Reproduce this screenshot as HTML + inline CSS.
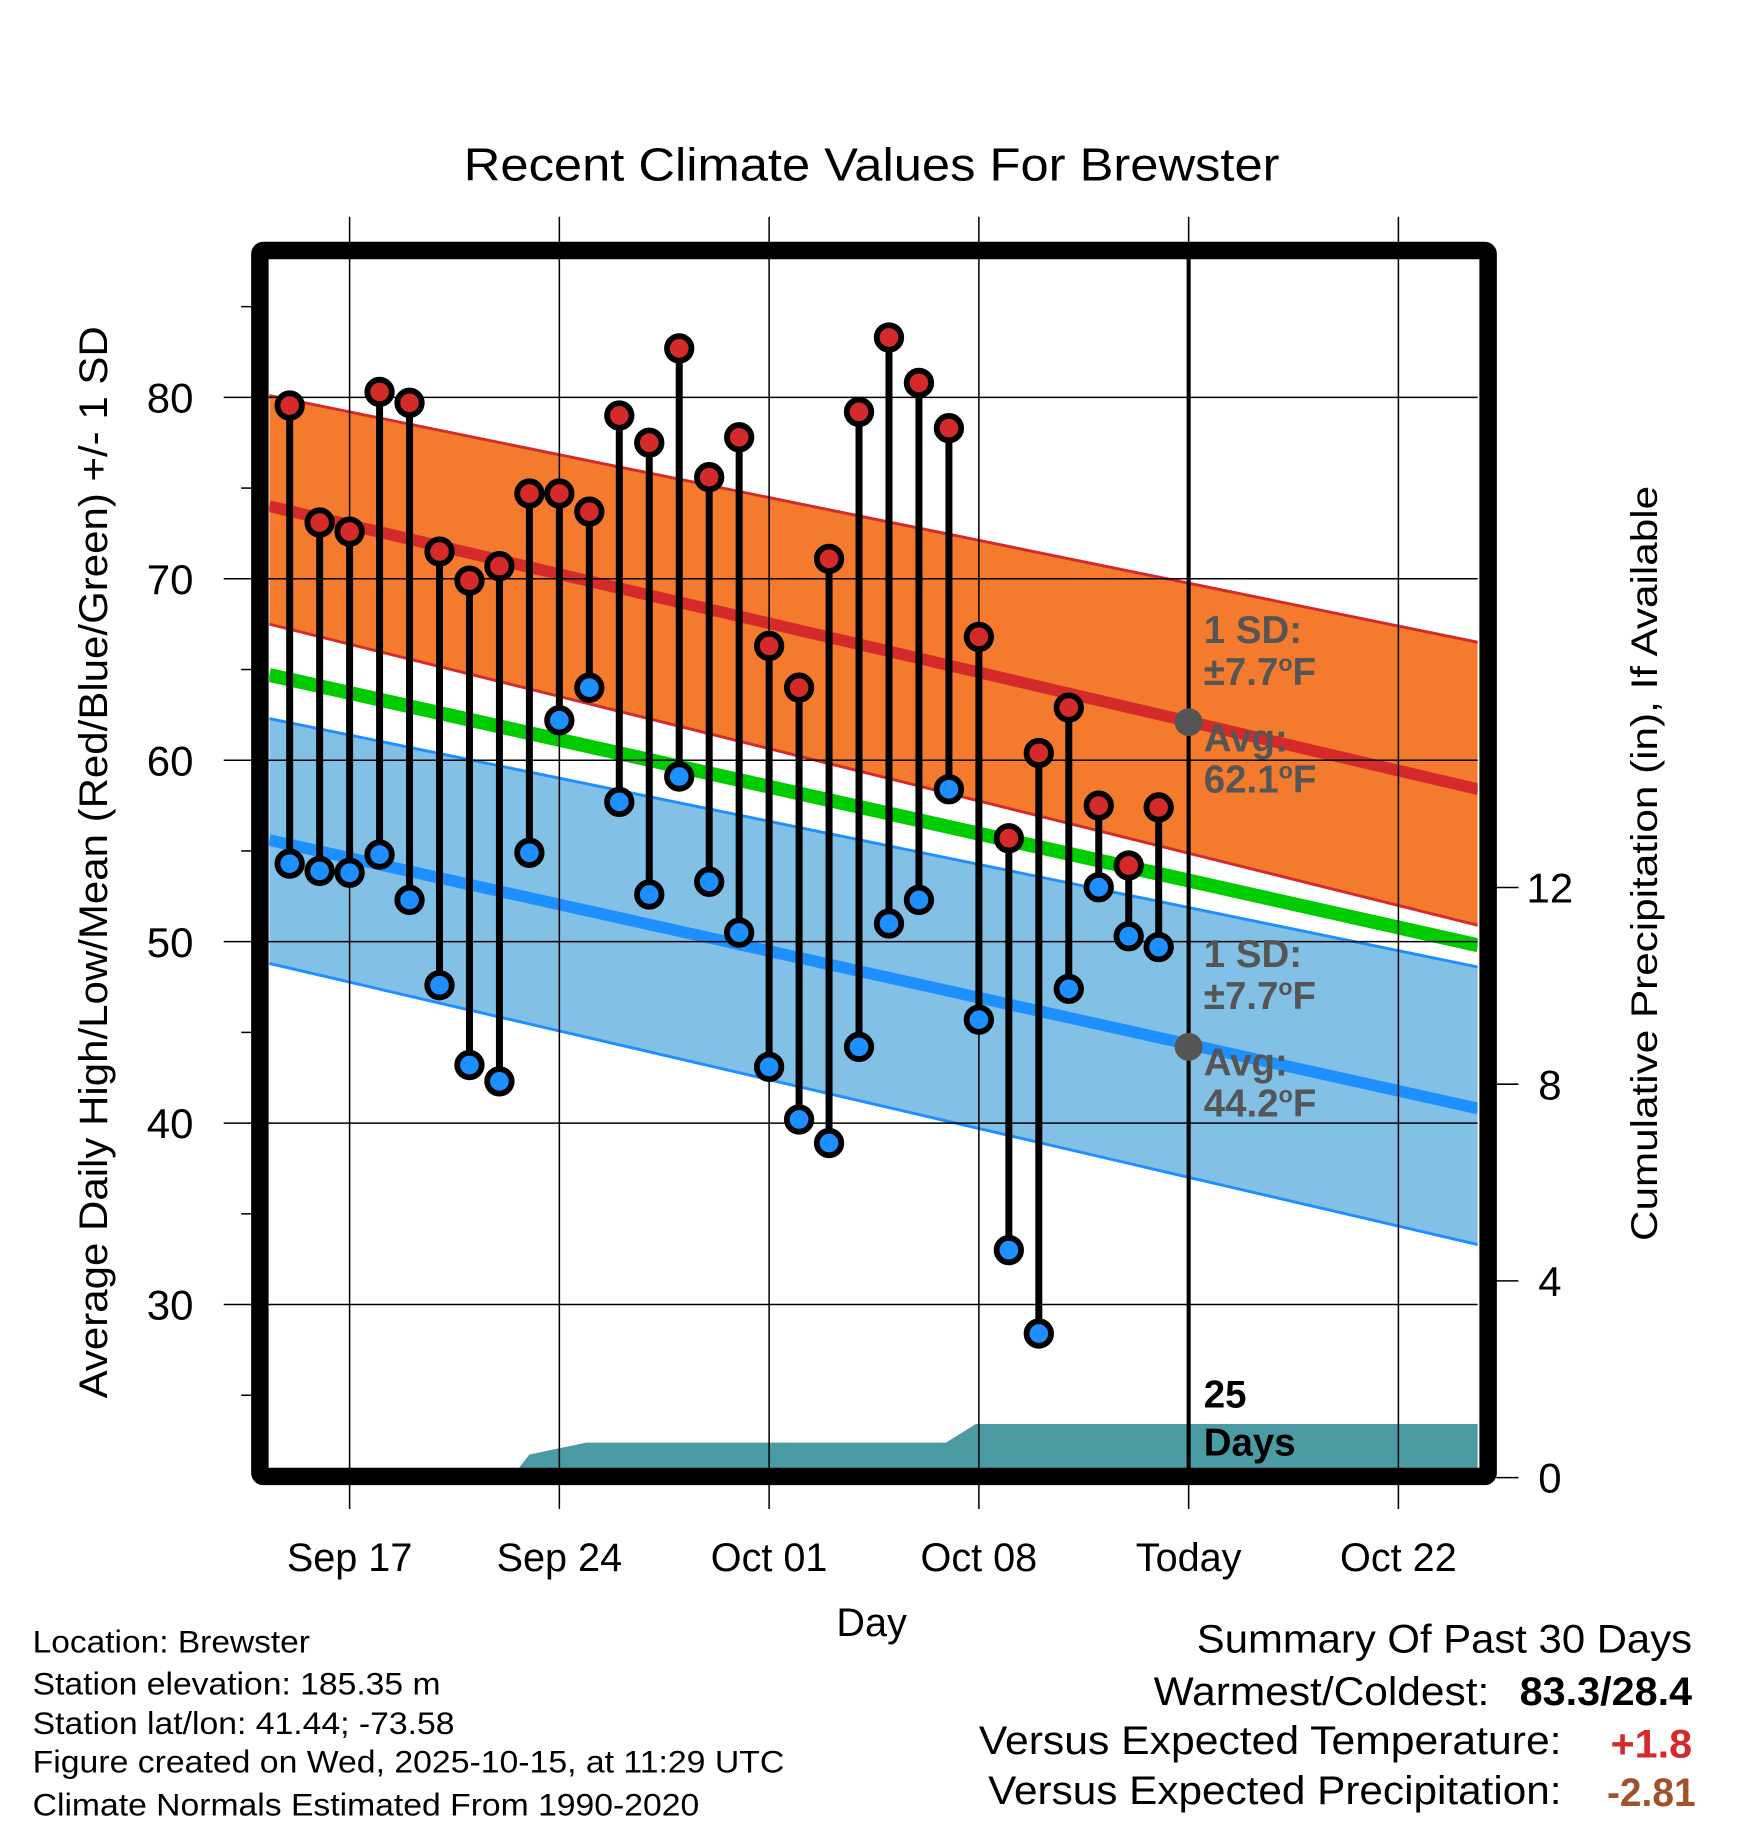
<!DOCTYPE html>
<html><head><meta charset="utf-8"><style>
html,body{margin:0;padding:0;background:#fff;}
svg{display:block;font-family:"Liberation Sans",sans-serif;}
</style></head><body>
<svg id="chart" width="1748" height="1828" viewBox="0 0 1500 1568.7" preserveAspectRatio="none" xmlns="http://www.w3.org/2000/svg">
<rect x="0" y="0" width="1500" height="1568.7" fill="#fff"/>
<text x="748" y="155" font-size="40" text-anchor="middle" textLength="700" lengthAdjust="spacingAndGlyphs">Recent Climate Values For Brewster</text>
<g id="plot"></g>
<text transform="translate(92,740) rotate(-90)" font-size="34" text-anchor="middle" textLength="920" lengthAdjust="spacingAndGlyphs">Average Daily High/Low/Mean (Red/Blue/Green) +/- 1 SD</text>
<text transform="translate(1422,741) rotate(-90)" font-size="32" text-anchor="middle" textLength="648" lengthAdjust="spacingAndGlyphs">Cumulative Precipitation (in), If Available</text>
<text x="748" y="1404" font-size="34" text-anchor="middle">Day</text>
<g font-size="27">
<text x="28" y="1418" textLength="238" lengthAdjust="spacingAndGlyphs">Location: Brewster</text>
<text x="28" y="1454" textLength="350" lengthAdjust="spacingAndGlyphs">Station elevation: 185.35 m</text>
<text x="28" y="1488" textLength="362" lengthAdjust="spacingAndGlyphs">Station lat/lon: 41.44; -73.58</text>
<text x="28" y="1521" textLength="645" lengthAdjust="spacingAndGlyphs">Figure created on Wed, 2025-10-15, at 11:29 UTC</text>
<text x="28" y="1558" textLength="572" lengthAdjust="spacingAndGlyphs">Climate Normals Estimated From 1990-2020</text>
</g>
<g font-size="34">
<text x="1452" y="1418" text-anchor="end" textLength="425" lengthAdjust="spacingAndGlyphs">Summary Of Past 30 Days</text>
<text x="1278" y="1463" text-anchor="end" textLength="288" lengthAdjust="spacingAndGlyphs">Warmest/Coldest:</text>
<text x="1452" y="1463" text-anchor="end" font-weight="bold" textLength="148" lengthAdjust="spacingAndGlyphs">83.3/28.4</text>
<text x="1340" y="1505" text-anchor="end" textLength="500" lengthAdjust="spacingAndGlyphs">Versus Expected Temperature:</text>
<text x="1452" y="1508" text-anchor="end" font-weight="bold" fill="#d42a2a" textLength="70" lengthAdjust="spacingAndGlyphs">+1.8</text>
<text x="1340" y="1548" text-anchor="end" textLength="492" lengthAdjust="spacingAndGlyphs">Versus Expected Precipitation:</text>
<text x="1455" y="1550" text-anchor="end" font-weight="bold" fill="#a0522d" textLength="76" lengthAdjust="spacingAndGlyphs">-2.81</text>
</g>
</svg>
<script>
const dayLabels = ["Sep 17","Sep 24","Oct 01","Oct 08","Today","Oct 22"];
const dayLabelPos = [0,7,14,21,28,35];
const yTicks = [30,40,50,60,70,80];
const yMinor = [25,35,45,55,65,75,85];
const pTicks = [0,4,8,12];
const obsDays = [-2,-1,0,1,2,3,4,5,6,7,8,9,10,11,12,13,14,15,16,17,18,19,20,21,22,23,24,25,26,27];
const highs = [79.55,73.1,72.6,80.3,79.7,71.5,69.9,70.7,74.7,74.7,73.7,79.0,77.5,82.7,75.6,77.8,66.3,64.0,71.1,79.2,83.3,80.8,78.3,66.8,55.7,60.4,62.9,57.5,54.2,57.4];
const lows = [54.3,53.9,53.8,54.8,52.3,47.6,43.2,42.3,54.9,62.2,64.0,57.7,52.6,59.1,53.3,50.5,43.1,40.2,38.9,44.2,51.0,52.3,58.4,45.7,33.0,28.4,47.4,53.0,50.3,49.7];
const normDays = [-2.68,37.66];
const highTop = [80.1,66.5];
const highAvg = [74.0,58.4];
const highBot = [67.5,50.9];
const meanAvg = [64.7,49.8];
const lowTop = [62.3,48.6];
const lowAvg = [55.6,40.8];
const lowBot = [48.8,33.3];
const precipDays = [-2.68,5.4,6.0,7.9,19.9,20.9,37.66];
const precipVals = [0,0,0.47,0.71,0.71,1.09,1.09];
const todayDay = 28;
const todayHigh = 62.1, todayLow = 44.2;

const X0=231,X1=1268,Y0=222,Y1=1260;
const xs = d => 300 + d*(180/7);
const ys = v => 341 + (80-v)*15.57;
const yp = p => 1268 - p*42.2;
const NS="http://www.w3.org/2000/svg";
const g=document.getElementById('plot');
function mk(tag,attrs,parent){const e=document.createElementNS(NS,tag);for(const k in attrs)e.setAttribute(k,attrs[k]);(parent||g).appendChild(e);return e;}
function line(a){return a.map((v,i)=>xs(normDays[i]).toFixed(1)+','+ys(v).toFixed(1));}

const defs=mk('defs',{});
const cp=mk('clipPath',{id:'clip'},defs);
mk('rect',{x:X0,y:Y0,width:X1-X0,height:Y1-Y0},cp);
const inner=mk('g',{'clip-path':'url(#clip)'});

let e;
e=mk('polygon',{points:line(highTop).concat(line(highBot).reverse()).join(' '),fill:'#f47a2e'},inner);


e=mk('polygon',{points:line(lowTop).concat(line(lowBot).reverse()).join(' '),fill:'#82c0e6'},inner);


[[highTop,'#d42a2a',2.5],[highBot,'#d42a2a',2.5],[lowTop,'#1e8fff',2.5],[lowBot,'#1e8fff',2.5]].forEach(([arr,c,w])=>{
  const l=mk('polyline',{points:line(arr).join(' '),stroke:c,'stroke-width':w,fill:'none'},inner);
  
  
});
e=mk('polyline',{points:line(highAvg).join(' '),stroke:'#d42a2a','stroke-width':10,fill:'none'},inner);


e=mk('polyline',{points:line(lowAvg).join(' '),stroke:'#1e8fff','stroke-width':10,fill:'none'},inner);


e=mk('polyline',{points:line(meanAvg).join(' '),stroke:'#00cc00','stroke-width':12,fill:'none'},inner);



let pts=precipDays.map((d,i)=>xs(d).toFixed(1)+','+yp(precipVals[i]).toFixed(1));
pts.push(xs(precipDays[precipDays.length-1]).toFixed(1)+','+Y1, xs(precipDays[0]).toFixed(1)+','+Y1);
e=mk('polygon',{points:pts.join(' '),fill:'#4a9ba3'},inner);



dayLabels.forEach((lab,i)=>{
  const x=xs(dayLabelPos[i]);
  const l=mk('line',{x1:x,x2:x,y1:186,y2:1295,stroke:'#000','stroke-width':1.3});
  
  
  const t=mk('text',{x:x,y:1348,'font-size':34,'text-anchor':'middle'});
  t.textContent=lab;
  
  
});
yTicks.forEach(v=>{
  const y=ys(v);
  const l=mk('line',{x1:192,x2:X1,y1:y,y2:y,stroke:'#000','stroke-width':1.3});
  
  
  const t=mk('text',{x:166,y:y+13,'font-size':36,'text-anchor':'end'});
  t.textContent=v;
  
  
});
yMinor.forEach(v=>{
  const y=ys(v);
  const l=mk('line',{x1:207,x2:216,y1:y,y2:y,stroke:'#000','stroke-width':1.3});
  
  
});
pTicks.forEach(p=>{
  const y=yp(p);
  const l=mk('line',{x1:1284,x2:1303,y1:y,y2:y,stroke:'#000','stroke-width':1.3});
  
  
  const t=mk('text',{x:1330,y:y+13,'font-size':36,'text-anchor':'middle'});
  t.textContent=p;
  
  
});

e=mk('line',{x1:xs(todayDay),x2:xs(todayDay),y1:Y0,y2:Y1,stroke:'#000','stroke-width':3.5});



obsDays.forEach((d,i)=>{
  const x=xs(d);
  const s=mk('line',{x1:x,x2:x,y1:ys(highs[i]),y2:ys(lows[i]),stroke:'#000','stroke-width':6});
  
  
});
obsDays.forEach((d,i)=>{
  const x=xs(d);
  const h=mk('circle',{cx:x,cy:ys(highs[i]),r:10.5,fill:'#d42a2a',stroke:'#000','stroke-width':5});
  
  
  const l=mk('circle',{cx:x,cy:ys(lows[i]),r:10.5,fill:'#1e8fff',stroke:'#000','stroke-width':5});
  
  
});

e=mk('circle',{cx:xs(todayDay),cy:ys(todayHigh),r:12,fill:'#555'});


e=mk('circle',{cx:xs(todayDay),cy:ys(todayLow),r:12,fill:'#555'});


function ann(txt,y,name,col,deg){
  const t=mk('text',{x:1033,y:y,'font-size':33,'font-weight':'bold',fill:col||'#555'});
  
  
  if(deg){
    const a=mk('tspan',{},t); a.textContent=txt;
    const b=mk('tspan',{dy:-12,'font-size':20},t); b.textContent='o';
    const c=mk('tspan',{dy:12},t); c.textContent='F';
  } else t.textContent=txt;
}
ann('1 SD:',552,'high-sd-label');
ann('\u00b17.7',588,'high-sd-value',null,true);
ann('Avg:',645,'high-avg-label');
ann(todayHigh.toFixed(1),680,'high-avg-value',null,true);
ann('1 SD:',830,'low-sd-label');
ann('\u00b17.7',866,'low-sd-value',null,true);
ann('Avg:',923,'low-avg-label');
ann(todayLow.toFixed(1),958,'low-avg-value',null,true);
ann('25',1208,'days-count','#000');
ann('Days',1249,'days-label','#000');

e=mk('rect',{x:223,y:215,width:1054,height:1052,fill:'none',stroke:'#000','stroke-width':15,rx:3});


</script>
</body></html>
